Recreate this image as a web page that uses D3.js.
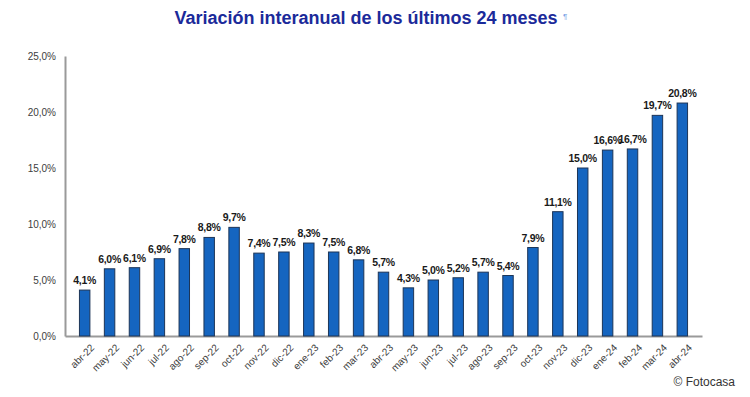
<!DOCTYPE html>
<html>
<head>
<meta charset="utf-8">
<script src="https://cdn.jsdelivr.net/npm/d3@7"></script>
<style>
  body { margin: 0; background: #fff; }
  svg { display: block; font-family: "Liberation Sans", Arial, sans-serif; overflow: visible; }
</style>
</head>
<body>
<svg width="750" height="397"></svg>
<script>
const months = ['abr-22','may-22','jun-22','jul-22','ago-22','sep-22','oct-22','nov-22','dic-22',
  'ene-23','feb-23','mar-23','abr-23','may-23','jun-23','jul-23','ago-23','sep-23','oct-23','nov-23','dic-23',
  'ene-24','feb-24','mar-24','abr-24'];
const values = [4.1, 6.0, 6.1, 6.9, 7.8, 8.8, 9.7, 7.4, 7.5, 8.3, 7.5, 6.8, 5.7,
  4.3, 5.0, 5.2, 5.7, 5.4, 7.9, 11.1, 15.0, 16.6, 16.7, 19.7, 20.8];
const yTicks = [0, 5, 10, 15, 20, 25];

const svg = d3.select('svg');
const margin = { top: 56, left: 65, right: 48, bottom: 61 };
const width = +svg.attr('width');
const height = +svg.attr('height');
const innerWidth = width - margin.left - margin.right;
const innerHeight = height - margin.top - margin.bottom;

const fmt = v => d3.format('.1f')(v).replace('.', ',') + '%';

const data = months.map((m, i) => ({ month: m, value: values[i] }));

const xScale = d3.scaleBand()
  .domain(months)
  .range([0, innerWidth])
  .padding(0.58);

const yScale = d3.scaleLinear()
  .domain([0, 25])
  .range([innerHeight, 0]);

const g = svg.append('g')
  .attr('transform', `translate(${margin.left},${margin.top})`);

// title
svg.append('text')
  .attr('x', 366)
  .attr('y', 24)
  .attr('text-anchor', 'middle')
  .attr('font-size', 18)
  .attr('font-weight', 'bold')
  .attr('fill', '#1b2a9a')
  .text('Variación interanual de los últimos 24 meses');
svg.append('text')
  .attr('x', 563)
  .attr('y', 19)
  .attr('font-size', 8)
  .attr('fill', '#7fa6e6')
  .text('¶');

// y axis
const yAxisGroup = g.append('g')
  .call(d3.axisLeft(yScale).tickValues(yTicks).tickFormat(fmt).tickSize(0).tickPadding(9));
yAxisGroup.select('.domain').attr('stroke', '#9a9a9a').attr('stroke-width', 2);
yAxisGroup.selectAll('.tick text')
  .attr('font-size', 10)
  .attr('font-family', '"Liberation Sans", Arial, sans-serif')
  .attr('fill', '#404040');

// x axis
const xAxisGroup = g.append('g')
  .attr('transform', `translate(0,${innerHeight})`)
  .call(d3.axisBottom(xScale).tickSize(0).tickPadding(6));
xAxisGroup.select('.domain').attr('stroke', '#9a9a9a').attr('stroke-width', 2);
xAxisGroup.selectAll('.tick text')
  .attr('font-size', 10)
  .attr('font-family', '"Liberation Sans", Arial, sans-serif')
  .attr('fill', '#404040')
  .attr('text-anchor', 'end')
  .attr('dy', '0.3em')
  .attr('transform', 'translate(4,6) rotate(-45)');

// bars
g.selectAll('rect.bar')
  .data(data)
  .enter()
  .append('rect')
  .attr('class', 'bar')
  .attr('x', d => xScale(d.month))
  .attr('y', d => yScale(d.value))
  .attr('width', xScale.bandwidth())
  .attr('height', d => innerHeight - yScale(d.value))
  .attr('fill', '#1565c0')
  .attr('stroke', '#1d3557')
  .attr('stroke-width', 1);

// value labels
g.selectAll('text.val')
  .data(data)
  .enter()
  .append('text')
  .attr('class', 'val')
  .attr('x', d => xScale(d.month) + xScale.bandwidth() / 2)
  .attr('y', d => yScale(d.value) - 6)
  .attr('text-anchor', 'middle')
  .attr('font-size', 10.5)
  .attr('font-weight', 'bold')
  .attr('letter-spacing', -0.3)
  .attr('fill', '#1a1a1a')
  .text(d => fmt(d.value));

// source
svg.append('text')
  .attr('x', 735)
  .attr('y', 386)
  .attr('text-anchor', 'end')
  .attr('font-size', 12)
  .attr('fill', '#333')
  .text('© Fotocasa');
</script>
</body>
</html>
